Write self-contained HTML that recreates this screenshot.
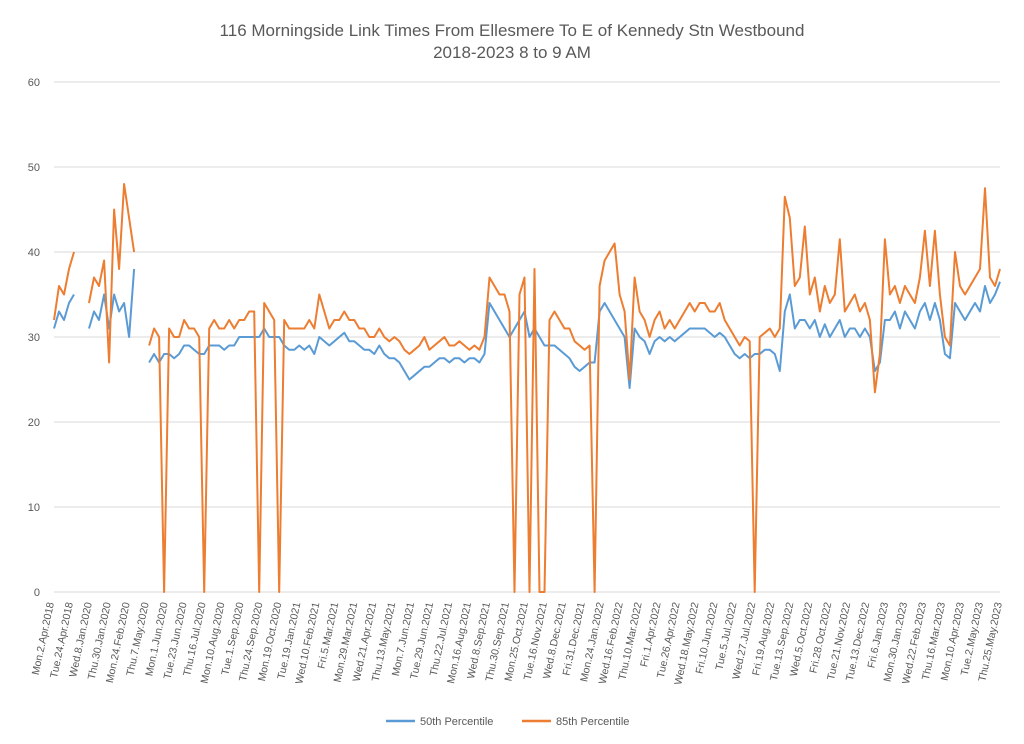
<!DOCTYPE html>
<html><head><meta charset="utf-8"><style>
body{margin:0;background:#fff;}
svg{display:block;font-family:"Liberation Sans",sans-serif;}
</style></head><body>
<svg id="chart" width="1024" height="744">
<text x="512" y="36" text-anchor="middle" font-size="17" fill="#595959">116 Morningside Link Times From Ellesmere To E of Kennedy Stn Westbound</text>
<text x="512" y="58" text-anchor="middle" font-size="17" fill="#595959">2018-2023 8 to 9 AM</text>
<g id="grid"></g><g id="ylab"></g><g id="xlab"></g><g id="series"></g>
<g>
<line x1="386" y1="721" x2="415" y2="721" stroke="#5B9BD5" stroke-width="2.5"/>
<text x="420" y="725" font-size="11" fill="#595959">50th Percentile</text>
<line x1="522" y1="721" x2="551" y2="721" stroke="#ED7D31" stroke-width="2.5"/>
<text x="556" y="725" font-size="11" fill="#595959">85th Percentile</text>
</g>
</svg>
<script>
const yTicks=[0,10,20,30,40,50,60];
const xLabels=["Mon.2.Apr.2018","Tue.24.Apr.2018","Wed.8.Jan.2020","Thu.30.Jan.2020","Mon.24.Feb.2020","Thu.7.May.2020","Mon.1.Jun.2020","Tue.23.Jun.2020","Thu.16.Jul.2020","Mon.10.Aug.2020","Tue.1.Sep.2020","Thu.24.Sep.2020","Mon.19.Oct.2020","Tue.19.Jan.2021","Wed.10.Feb.2021","Fri.5.Mar.2021","Mon.29.Mar.2021","Wed.21.Apr.2021","Thu.13.May.2021","Mon.7.Jun.2021","Tue.29.Jun.2021","Thu.22.Jul.2021","Mon.16.Aug.2021","Wed.8.Sep.2021","Thu.30.Sep.2021","Mon.25.Oct.2021","Tue.16.Nov.2021","Wed.8.Dec.2021","Fri.31.Dec.2021","Mon.24.Jan.2022","Wed.16.Feb.2022","Thu.10.Mar.2022","Fri.1.Apr.2022","Tue.26.Apr.2022","Wed.18.May.2022","Fri.10.Jun.2022","Tue.5.Jul.2022","Wed.27.Jul.2022","Fri.19.Aug.2022","Tue.13.Sep.2022","Wed.5.Oct.2022","Fri.28.Oct.2022","Tue.21.Nov.2022","Tue.13.Dec.2022","Fri.6.Jan.2023","Mon.30.Jan.2023","Wed.22.Feb.2023","Thu.16.Mar.2023","Mon.10.Apr.2023","Tue.2.May.2023","Thu.25.May.2023"];
const p85=[32,36,35,38,40,null,null,34,37,36,
39,27,45,38,48,44,40,null,null,29,
31,30,0,31,30,30,32,31,31,30,
0,31,32,31,31,32,31,32,32,33,
33,0,34,33,32,0,32,31,31,31,
31,32,31,35,33,31,32,32,33,32,
32,31,31,30,30,31,30,29.5,30,29.5,
28.5,28,28.5,29,30,28.5,29,29.5,30,29,
29,29.5,29,28.5,29,28.5,30,37,36,35,
35,33,0,35,37,0,38,0,0,32,
33,32,31,31,29.5,29,28.5,29,0,36,
39,40,41,35,33,25,37,33,32,30,
32,33,31,32,31,32,33,34,33,34,
34,33,33,34,32,31,30,29,30,29.5,
0,30,30.5,31,30,31,46.5,44,36,37,
43,35,37,33,36,34,35,41.5,33,34,
35,33,34,32,23.5,28,41.5,35,36,34,
36,35,34,37,42.5,36,42.5,35,30,29,
40,36,35,36,37,38,47.5,37,36,38];
const p50=[31,33,32,34,35,null,null,31,33,32,
35,31,35,33,34,30,38,null,null,27,
28,27,28,28,27.5,28,29,29,28.5,28,
28,29,29,29,28.5,29,29,30,30,30,
30,30,31,30,30,30,29,28.5,28.5,29,
28.5,29,28,30,29.5,29,29.5,30,30.5,29.5,
29.5,29,28.5,28.5,28,29,28,27.5,27.5,27,
26,25,25.5,26,26.5,26.5,27,27.5,27.5,27,
27.5,27.5,27,27.5,27.5,27,28,34,33,32,
31,30,31,32,33,30,31,30,29,29,
29,28.5,28,27.5,26.5,26,26.5,27,27,33,
34,33,32,31,30,24,31,30,29.5,28,
29.5,30,29.5,30,29.5,30,30.5,31,31,31,
31,30.5,30,30.5,30,29,28,27.5,28,27.5,
28,28,28.5,28.5,28,26,33,35,31,32,
32,31,32,30,31.5,30,31,32,30,31,
31,30,31,30,26,27,32,32,33,31,
33,32,31,33,34,32,34,32,28,27.5,
34,33,32,33,34,33,36,34,35,36.5];
const NS="http://www.w3.org/2000/svg";
const X0=54,X1=1000,Y0=592,Y1=82;
function yS(v){return Y0-(v/60)*(Y0-Y1);}
function xS(i,n){return X0+i*(X1-X0)/(n-1);}
function mk(t,a,p){const e=document.createElementNS(NS,t);for(const k in a)e.setAttribute(k,a[k]);p.appendChild(e);return e;}
const grid=document.getElementById('grid'),ylab=document.getElementById('ylab'),xlab=document.getElementById('xlab'),ser=document.getElementById('series');
yTicks.forEach(v=>{
 const l=mk('line',{x1:X0,x2:X1,y1:yS(v),y2:yS(v),stroke:'#d9d9d9','stroke-width':1},grid);
 
 
 const t=mk('text',{x:40,y:yS(v)+4,'text-anchor':'end','font-size':11,fill:'#595959'},ylab);
 t.textContent=v;
 
 
});
xLabels.forEach((s,i)=>{
 const x=50+i*(998-50)/(xLabels.length-1);
 const t=mk('text',{x:0,y:0,'text-anchor':'end','font-size':10.5,fill:'#595959',transform:`translate(${x+4},603) rotate(-78)`},xlab);
 t.textContent=s;
 
 
});
function draw(arr,color,name){
 let d='',pen=false;
 arr.forEach((v,i)=>{
  if(v===null){pen=false;return;}
  d+=(pen?'L':'M')+xS(i,arr.length).toFixed(1)+' '+yS(v).toFixed(1)+' ';pen=true;
 });
 const p=mk('path',{d:d,fill:'none',stroke:color,'stroke-width':2,'stroke-linejoin':'round'},ser);
 
 
}
draw(p50,'#5B9BD5','series-50th-percentile');
draw(p85,'#ED7D31','series-85th-percentile');
</script>
</body></html>
